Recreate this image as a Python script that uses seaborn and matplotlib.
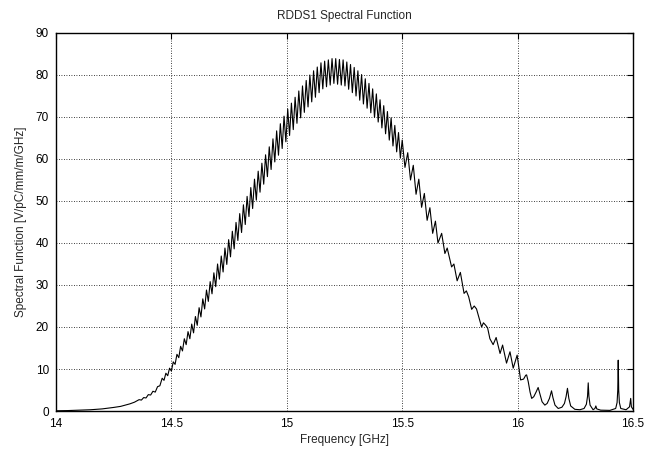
import matplotlib
matplotlib.use("Agg")
import matplotlib.pyplot as plt
import seaborn as sns
import pandas as pd

# ---- data ----
low_freq = [14.00, 14.05, 14.10, 14.15, 14.20, 14.25, 14.28, 14.30, 14.32, 14.34,
            14.36, 14.37, 14.38, 14.39, 14.40, 14.41, 14.42, 14.43, 14.44, 14.45]
low_val = [0.05, 0.1, 0.2, 0.3, 0.5, 0.85, 1.1, 1.4, 1.7, 2.1,
           2.7, 2.6, 3.2, 3.1, 3.9, 3.8, 4.7, 4.5, 5.8, 6.0]

dense_freq = [14.460, 14.468, 14.476, 14.484, 14.492, 14.500, 14.508, 14.516, 14.524, 14.532,
              14.540, 14.548, 14.556, 14.564, 14.572, 14.580, 14.588, 14.596, 14.604, 14.612,
              14.620, 14.628, 14.636, 14.644, 14.652, 14.660, 14.668, 14.676, 14.684, 14.692,
              14.700, 14.708, 14.716, 14.724, 14.732, 14.740, 14.748, 14.756, 14.764, 14.772,
              14.780, 14.788, 14.796, 14.804, 14.812, 14.820, 14.828, 14.836, 14.844, 14.852,
              14.860, 14.868, 14.876, 14.884, 14.892, 14.900, 14.908, 14.916, 14.924, 14.932,
              14.940, 14.948, 14.956, 14.964, 14.972, 14.980, 14.988, 14.996, 15.004, 15.012,
              15.020, 15.028, 15.036, 15.044, 15.052, 15.060, 15.068, 15.076, 15.084, 15.092,
              15.100, 15.108, 15.116, 15.124, 15.132, 15.140, 15.148, 15.156, 15.164, 15.172,
              15.180, 15.188, 15.196, 15.204, 15.212, 15.220, 15.228, 15.236, 15.244, 15.252,
              15.260, 15.268, 15.276, 15.284, 15.292, 15.300, 15.308, 15.316, 15.324, 15.332,
              15.340, 15.348, 15.356, 15.364, 15.372, 15.380, 15.388, 15.396, 15.404, 15.412,
              15.420, 15.428, 15.436, 15.444, 15.452, 15.460, 15.468, 15.476, 15.484, 15.492,
              15.500]
dense_val = [7.8, 7.3, 9.0, 8.4, 10.2, 9.5, 11.7, 11.1, 13.5, 12.7,
             15.4, 14.3, 17.2, 15.8, 18.9, 17.2, 20.7, 18.6, 22.5, 20.4,
             24.6, 22.4, 26.7, 24.3, 28.8, 26.1, 30.8, 27.9, 32.9, 29.6,
             35.0, 31.4, 36.9, 33.1, 38.8, 34.9, 40.8, 36.7, 42.8, 38.6,
             44.9, 40.6, 47.0, 42.5, 49.1, 44.4, 51.1, 46.3, 53.2, 48.2,
             55.2, 50.2, 57.1, 52.1, 59.0, 54.0, 61.0, 55.8, 62.9, 57.5,
             64.8, 59.3, 66.7, 60.9, 68.4, 62.5, 70.2, 64.1, 71.9, 65.6,
             73.3, 67.0, 74.7, 68.5, 76.2, 69.8, 77.4, 71.1, 78.7, 72.4,
             80.0, 73.6, 81.0, 74.7, 81.9, 75.8, 82.9, 76.7, 83.3, 77.2,
             83.6, 77.6, 83.9, 78.0, 83.9, 77.8, 83.7, 77.6, 83.6, 77.4,
             83.1, 76.6, 82.5, 75.8, 81.8, 75.0, 81.0, 74.0, 80.1, 73.1,
             79.1, 72.1, 78.0, 71.0, 76.7, 69.9, 75.5, 68.8, 74.1, 67.4,
             72.7, 66.0, 71.3, 64.5, 69.8, 63.1, 68.0, 61.7, 66.3, 60.2,
             64.5]

mid_freq = [15.512, 15.524, 15.536, 15.548, 15.560, 15.572, 15.584, 15.596, 15.608, 15.620,
            15.632, 15.644]
mid_val = [58.0, 61.5, 55.0, 58.5, 51.6, 55.2, 48.5, 51.8, 45.4, 48.4,
           42.3, 45.2]

tail_freq = [15.655, 15.671, 15.685, 15.695, 15.714, 15.724, 15.738, 15.752, 15.768, 15.778,
             15.788, 15.801, 15.812, 15.822, 15.844, 15.852, 15.862, 15.870, 15.880, 15.894,
             15.907, 15.924, 15.935, 15.952, 15.967, 15.981, 15.998, 16.013, 16.026, 16.035,
             16.039, 16.046, 16.054, 16.061, 16.070, 16.080, 16.089, 16.097, 16.106, 16.118,
             16.128, 16.138, 16.147, 16.153, 16.162, 16.176, 16.192, 16.203, 16.210, 16.216,
             16.222, 16.230, 16.248, 16.270, 16.288, 16.298, 16.303, 16.306, 16.309, 16.314,
             16.327, 16.335, 16.339, 16.343, 16.360, 16.400, 16.425, 16.431, 16.434, 16.436,
             16.438, 16.441, 16.447, 16.470, 16.485, 16.490, 16.493, 16.500]
tail_val = [40.0, 42.3, 37.5, 38.8, 34.3, 35.0, 31.0, 33.0, 28.0, 28.6,
            27.2, 24.2, 25.0, 24.3, 20.0, 21.0, 20.4, 19.8, 17.2, 15.8,
            17.5, 13.7, 15.7, 11.4, 14.1, 10.2, 13.3, 7.4, 7.6, 8.5,
            8.6, 7.0, 4.5, 3.0, 3.4, 4.5, 5.6, 4.0, 2.2, 1.4,
            1.8, 3.0, 4.8, 3.2, 1.4, 0.6, 0.9, 1.8, 3.4, 5.4,
            3.0, 1.2, 0.4, 0.3, 0.6, 1.6, 3.5, 6.7, 3.5, 1.4,
            0.3, 0.6, 1.2, 0.5, 0.2, 0.15, 0.6, 2.0, 5.0, 12.1,
            5.0, 2.0, 0.6, 0.3, 1.0, 3.0, 1.0, 0.4]

x_ticks = [14, 14.5, 15, 15.5, 16, 16.5]
x_tick_labels = ["14", "14.5", "15", "15.5", "16", "16.5"]
y_ticks = [0, 10, 20, 30, 40, 50, 60, 70, 80, 90]

df = pd.DataFrame({
    "freq": low_freq + dense_freq + mid_freq + tail_freq,
    "val": low_val + dense_val + mid_val + tail_val,
})

sns.set_style("white")
plt.rcParams["font.family"] = ["Liberation Sans", "DejaVu Sans"]

fig = plt.figure(figsize=(6.45, 4.49), dpi=100)
ax = fig.add_axes([56 / 645, 1 - 411 / 449, (633 - 56) / 645, (411 - 33) / 449])

sns.lineplot(data=df, x="freq", y="val", color="black", linewidth=0.8,
             estimator=None, sort=False, ax=ax)

ax.set_xlim(14, 16.5)
ax.set_ylim(0, 90)
ax.set_xticks(x_ticks)
ax.set_xticklabels(x_tick_labels)
ax.set_yticks(y_ticks)
ax.grid(True, color="black", linestyle=(0, (1, 2)), linewidth=0.6)
for s in ax.spines.values():
    s.set_color("black")
    s.set_linewidth(1.0)
ax.tick_params(direction="in", length=4, width=0.8, top=True, right=True,
               labelsize=8.5, colors="black", pad=5)
ax.set_xlabel("Frequency [GHz]", fontsize=8.5, labelpad=3)
ax.set_ylabel("Spectral Function [V/pC/mm/m/GHz]", fontsize=8.5, labelpad=6)
ax.set_title("RDDS1 Spectral Function", fontsize=8.5, pad=10)

fig.savefig("out.png", dpi=100)
